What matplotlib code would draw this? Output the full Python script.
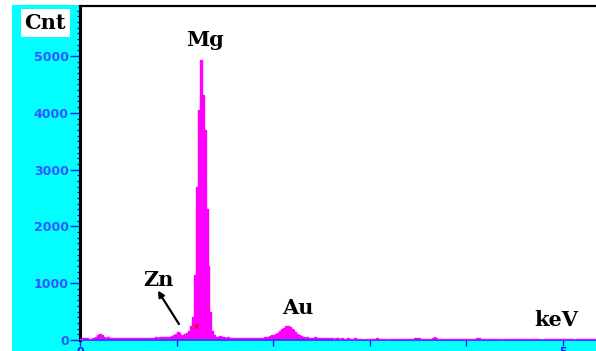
"""
plot.py

EDS spectrum (Mg with traces of Zn and Au), counts vs energy.
"""
import numpy as np
import matplotlib
matplotlib.use("Agg")
import matplotlib.pyplot as plt
from matplotlib.patches import Rectangle
from matplotlib.ticker import MultipleLocator, FixedLocator, FuncFormatter

OUTPUT_CHART = "out.png"

# channel calibration (keV)
CHANNEL_START = 0.0
CHANNEL_WIDTH = 0.02

# counts per 20 eV channel
counts = [
    10, 30, 40, 35, 25, 20, 30, 40, 60, 90,
    110, 80, 50, 40, 45, 30, 35, 40, 30, 35,
    30, 40, 35, 30, 35, 40, 30, 35, 40, 30,
    35, 40, 35, 30, 40, 35, 30, 35, 40, 45,
    40, 45, 50, 45, 50, 55, 60, 70, 90, 110,
    140, 120, 90, 80, 100, 130, 160, 250, 400, 1150,
    2690, 4050, 4930, 4310, 3700, 2300, 1300, 500, 150, 80,
    60, 50, 70, 60, 45, 40, 50, 40, 35, 40,
    35, 40, 30, 35, 30, 40, 35, 30, 35, 30,
    35, 30, 40, 35, 40, 45, 50, 60, 70, 90,
    80, 100, 130, 160, 190, 220, 240, 255, 235, 200,
    170, 140, 110, 90, 70, 60, 50, 45, 40, 35,
    40, 50, 35, 40, 30, 35, 40, 30, 35, 30,
    30, 25, 30, 35, 25, 30, 20, 25, 30, 25,
    20, 25, 30, 20, 25, 20, 0, 0, 20, 25,
    20, 25, 20, 30, 25, 20, 25, 20, 25, 0,
    20, 25, 20, 25, 20, 25, 20, 20, 25, 20,
    25, 20, 25, 30, 40, 30, 25, 20, 25, 20,
    25, 20, 30, 45, 30, 20, 25, 20, 20, 25,
    20, 25, 20, 25, 20, 20, 25, 20, 25, 20,
    20, 25, 20, 25, 20, 30, 35, 25, 20, 25,
    20, 25, 20, 20, 25, 20, 25, 20, 0, 20,
    25, 20, 25, 20, 20, 25, 20, 25, 20, 20,
    25, 20, 25, 20, 20, 25, 20, 25, 0, 0,
    20, 25, 20, 20, 25, 20, 25, 20, 20, 25,
    20, 25, 20, 25, 20, 0, 0, 20, 25, 20,
    25, 20, 20, 25, 20, 25, 20, 20,
]

# element labels: (text, energy keV, counts)
peak_labels = [
    ("Mg", 1.29, 5280),
    ("Zn", 0.81, 1060),
    ("Au", 2.26, 560),
]

# arrow pointing to the Zn bump: tail and head (keV, counts)
zn_arrow_tail = (1.025, 280)
zn_arrow_head = (0.805, 870)

y_major_ticks = [0, 1000, 2000, 3000, 4000, 5000]
x_major_ticks = [0, 1, 2, 3, 4, 5]
x_labelled = [0, 5]

X_MAX = 5.342
Y_MAX = 5890

MAGENTA = "#ff00ff"
CYAN = "#00ffff"
TICK_BLUE = "#1a1aff"
SERIF = ["DejaVu Serif"]
SANS = ["DejaVu Sans"]


def main():
    counts_arr = np.array(counts, dtype=float)
    energy = CHANNEL_START + CHANNEL_WIDTH * np.arange(len(counts_arr) + 1)
    counts_step = np.append(counts_arr, counts_arr[-1])

    fig = plt.figure(figsize=(5.96, 3.51), dpi=100)
    fig.patch.set_facecolor("white")

    # cyan panel behind the axes
    fig.patches.append(Rectangle((12 / 596, 0), 1 - 12 / 596, 346 / 351,
                                 transform=fig.transFigure, facecolor=CYAN,
                                 edgecolor="none", zorder=-5))

    ax = fig.add_axes([80 / 596, 11 / 351, 516 / 596, 334.5 / 351])
    ax.set_zorder(2)
    ax.set_facecolor("white")

    ax.fill_between(energy, counts_step, step="post", color=MAGENTA,
                    linewidth=0, zorder=2)
    ax.step(energy, counts_step, where="post", color=MAGENTA,
            linewidth=1.0, zorder=3)

    ax.set_xlim(0, X_MAX)
    ax.set_ylim(0, Y_MAX)

    # spines
    ax.spines["left"].set_color("black")
    ax.spines["left"].set_linewidth(2.2)
    ax.spines["top"].set_color("black")
    ax.spines["top"].set_linewidth(1.6)
    ax.spines["bottom"].set_color("#2040ff")
    ax.spines["bottom"].set_linewidth(1.2)
    ax.spines["right"].set_visible(False)

    # y axis ticks
    ax.yaxis.set_major_locator(FixedLocator(y_major_ticks))
    ax.yaxis.set_minor_locator(MultipleLocator(100))
    ax.tick_params(axis="y", which="major", direction="out", length=7,
                   width=1.0, color=TICK_BLUE, labelcolor="#3355ff",
                   labelsize=9, pad=1)
    ax.tick_params(axis="y", which="minor", direction="out", length=2.5,
                   width=0.9, color="#1010c0")
    for lab in ax.get_yticklabels():
        lab.set_fontweight("bold")
        lab.set_family(SANS)

    # x axis ticks, only the ends are labelled (they sit at the lower edge)
    ax.xaxis.set_major_locator(FixedLocator(x_major_ticks))
    ax.xaxis.set_major_formatter(FuncFormatter(
        lambda v, p: f"{v:.0f}" if round(v) in x_labelled else ""))
    ax.tick_params(axis="x", which="major", direction="out", length=4,
                   width=1.0, color=TICK_BLUE, labelcolor=TICK_BLUE,
                   labelsize=8, pad=1)
    for lab in ax.get_xticklabels():
        lab.set_fontweight("bold")
        lab.set_family(SANS)

    # element labels
    for text, e, c in peak_labels:
        ax.text(e, c, text, ha="center", va="center", fontsize=15,
                fontweight="bold", family=SERIF, color="black", zorder=5)

    ax.annotate("", xy=zn_arrow_head, xytext=zn_arrow_tail,
                arrowprops=dict(arrowstyle="-|>", color="black", lw=1.6,
                                mutation_scale=9, shrinkA=0, shrinkB=0),
                zorder=5)

    # small red peak marker at the foot of the Mg peak
    ax.plot([1.205], [240], marker="x", color="red", markersize=3.5,
            markeredgewidth=1.0, zorder=4)

    ax.text(4.93, 350, "keV", ha="center", va="center", fontsize=15,
            fontweight="bold", family=SERIF, color="black", zorder=5)

    # axis unit box
    fig.text(45 / 596, 1 - 23 / 351, "Cnt", ha="center", va="center",
             fontsize=15, fontweight="bold", family=SERIF, color="black",
             zorder=10,
             bbox=dict(boxstyle="square,pad=0.18", facecolor="white",
                       edgecolor="none"))

    fig.savefig(OUTPUT_CHART, dpi=100)
    print(f"Saved visualization to {OUTPUT_CHART}")


if __name__ == '__main__':
    main()
